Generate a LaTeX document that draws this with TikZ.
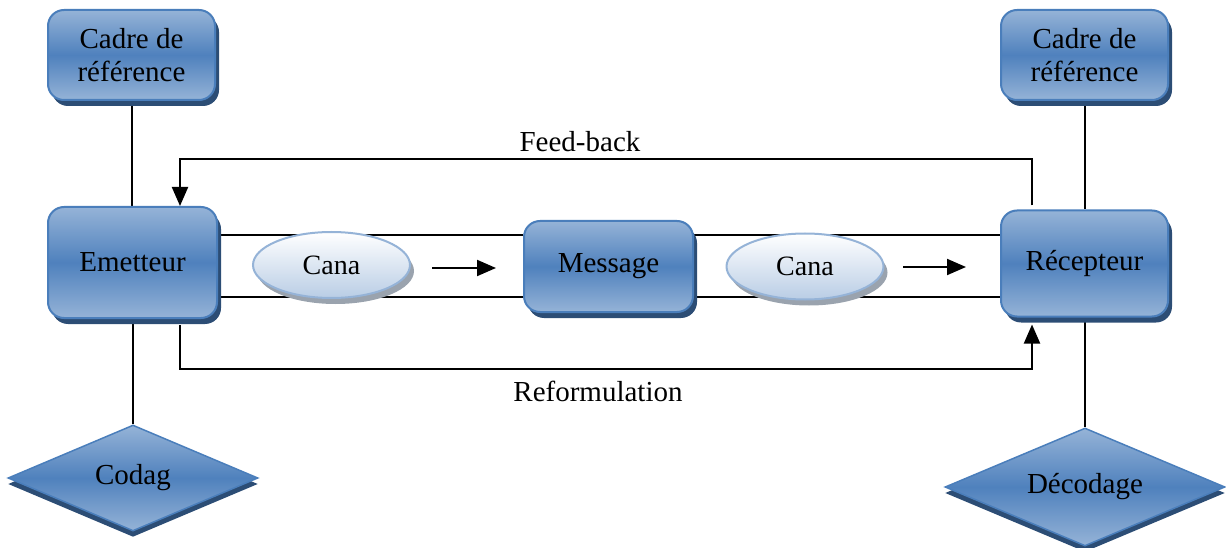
\documentclass[tikz,border=0pt]{standalone}
\usepackage{fontspec}
\setmainfont{Liberation Serif}
\usetikzlibrary{shapes.geometric,shadows,arrows.meta}
\definecolor{bluemid}{HTML}{4F81BD}
\definecolor{bluelight}{HTML}{95B3D7}
\definecolor{blueedge}{HTML}{4A7EBB}
\definecolor{shadowblue}{HTML}{2C4D75}
\definecolor{ellfill}{HTML}{B9CDE5}
\definecolor{ellgrey}{HTML}{9AA3AE}
\pgfdeclarelayer{background}
\pgfsetlayers{background,main}
\begin{document}
\begin{tikzpicture}[x=1pt,y=-1pt,
  box/.style={rectangle, rounded corners=16pt, draw=blueedge, line width=2pt,
    top color=bluelight, bottom color=bluelight, middle color=bluemid,
    drop shadow={shadow xshift=4pt, shadow yshift=-6pt, fill=shadowblue, opacity=1},
    font=\fontsize{29}{33}\selectfont, align=center, inner sep=0pt},
  dia/.style={diamond, aspect=2.3, draw=blueedge, line width=1.5pt,
    top color=bluelight, bottom color=bluelight, middle color=bluemid,
    drop shadow={shadow xshift=0pt, shadow yshift=-6pt, fill=shadowblue, opacity=1},
    font=\fontsize{29}{33}\selectfont, inner sep=0pt},
  chan/.style={ellipse, draw=bluelight, line width=2pt,
    top color=white, bottom color=ellfill,
    drop shadow={shadow xshift=4pt, shadow yshift=-6pt, fill=ellgrey, opacity=1},
    font=\fontsize{28}{32}\selectfont, inner sep=0pt,
    minimum width=157pt, minimum height=66pt},
  conn/.style={line width=2pt, black},
  tip/.style={-{Triangle[length=19pt,width=16pt]}},
  lbl/.style={font=\fontsize{29}{33}\selectfont, inner sep=0pt}
]
\useasboundingbox (0,0) rectangle (1226,548);

\node[box, minimum width=167pt, minimum height=90pt] (cadreL) at (131.5,55) {Cadre de\\référence};
\node[box, minimum width=167pt, minimum height=90pt] (cadreR) at (1084.5,55) {Cadre de\\référence};
\node[box, minimum width=169pt, minimum height=111pt] (emetteur) at (132.5,262.5) {Emetteur};
\node[box, minimum width=169pt, minimum height=91pt] (message) at (608.5,266.5) {Message};
\node[box, minimum width=167pt, minimum height=106pt] (recepteur) at (1084.5,263.5) {Récepteur};
\node[dia, minimum width=250pt, minimum height=106pt] (codag) at (133,478) {Codag};
\node[dia, minimum width=280pt, minimum height=118pt] (decodage) at (1085,487) {Décodage};

\node[chan] (cana1) at (331.5,265) {\raisebox{-7pt}{Cana}};
\node[chan] (cana2) at (805,266.5) {\raisebox{-7pt}{Cana}};

\node[lbl] (fb) at (580,142) {Feed-back};
\node[lbl] (reform) at (598,391) {Reformulation};

\coordinate (fbx1) at (1032,0);
\coordinate (fbx2) at (180,0);
\coordinate (ch1) at (0,235);
\coordinate (ch2) at (0,297);
\coordinate (fbtop) at (0,159);
\coordinate (rftop) at (0,369);
\coordinate (a1s) at (432,268);
\coordinate (a1e) at (496,268);
\coordinate (a2s) at (903,267);
\coordinate (a2e) at (966,267);

\begin{pgfonlayer}{background}
\draw[conn] (cadreL.south) -- (cadreL.south |- emetteur.north);
\draw[conn] (emetteur.south) -- (emetteur.south |- codag.north);
\draw[conn] (cadreR.south) -- (cadreR.south |- recepteur.north);
\draw[conn] (recepteur.south) -- (recepteur.south |- decodage.north);
\draw[conn] (emetteur.east |- ch1) -- (message.west |- ch1);
\draw[conn] (emetteur.east |- ch2) -- (message.west |- ch2);
\draw[conn] (message.east |- ch1) -- (recepteur.west |- ch1);
\draw[conn] (message.east |- ch2) -- (recepteur.west |- ch2);
\draw[conn, tip] ([yshift=4pt]recepteur.north -| fbx1) -- (fbtop -| fbx1) -- (fbtop -| fbx2) -- (emetteur.north -| fbx2);
\draw[conn, tip] ([yshift=-6pt]emetteur.south -| fbx2) -- (rftop -| fbx2) -- (rftop -| fbx1) -- ([yshift=-7pt]recepteur.south -| fbx1);
\end{pgfonlayer}
\draw[conn, tip] (a1s) -- (a1e);
\draw[conn, tip] (a2s) -- (a2e);
\end{tikzpicture}
\end{document}
